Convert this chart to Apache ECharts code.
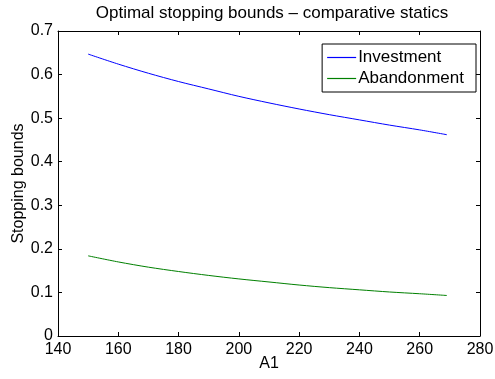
<!DOCTYPE html>
<html><head><meta charset="utf-8">
<script src="https://cdn.jsdelivr.net/npm/echarts@6/dist/echarts.min.js"></script>
<style>html,body{margin:0;padding:0;background:#fff}#c{width:495px;height:379px}</style>
</head><body><div id="c"></div>
<script>
const xValues = [150, 160, 170, 180, 190, 200, 210, 220, 230, 240, 250, 260, 269];
const investment = [0.647, 0.624, 0.603, 0.584, 0.567, 0.550, 0.535, 0.521, 0.508, 0.496, 0.484, 0.473, 0.462];
const abandonment = [0.184, 0.170, 0.158, 0.148, 0.139, 0.131, 0.124, 0.117, 0.111, 0.106, 0.101, 0.097, 0.093];
const seriesNames = ['Investment', 'Abandonment'];
const titleText = 'Optimal stopping bounds \u2013 comparative statics';

const font = 'Liberation Sans, Arial, Helvetica, sans-serif';
const fs = 16;
const chart = echarts.init(document.getElementById('c'), null, {renderer: 'canvas'});
const pair = (xs, ys) => xs.map((x, i) => [x, ys[i]]);
const axisCommon = {
  axisLine: {show: true, onZero: false, lineStyle: {color: '#000', width: 1}},
  axisTick: {show: true, inside: true, length: 4, lineStyle: {color: '#000'}},
  splitLine: {show: false}
};
chart.setOption({
  animation: false,
  backgroundColor: '#fff',
  title: {text: titleText, left: 267, textAlign: 'center', top: 0,
    textStyle: {fontFamily: font, fontSize: 17, fontWeight: 'normal', color: '#000'}},
  grid: {left: 58, right: 15, top: 31, bottom: 43, containLabel: false, outerBoundsMode: 'none'},
  legend: {
    orient: 'vertical', right: 19, top: 44,
    data: seriesNames.map(n => ({name: n, icon: 'rect'})),
    itemWidth: 29, itemHeight: 1.2, itemGap: 4,
    borderColor: '#000', borderWidth: 1, padding: [5, 12, 5, 5],
    backgroundColor: '#fff',
    textStyle: {fontFamily: font, fontSize: 17, color: '#000', padding: [0, 0, 0, -3]}
  },
  xAxis: [
    Object.assign({type: 'value', min: 140, max: 280, interval: 20, position: 'bottom',
      name: 'A1', nameLocation: 'middle', nameGap: 20, nameMoveOverlap: false,
      nameTextStyle: {fontFamily: font, fontSize: fs, color: '#000'},
      axisLabel: {fontFamily: font, fontSize: fs, color: '#000', margin: 6}}, axisCommon),
    Object.assign({type: 'value', min: 140, max: 280, interval: 20, position: 'top',
      axisLabel: {show: false}}, axisCommon)
  ],
  yAxis: [
    Object.assign({type: 'value', min: 0, max: 0.7, interval: 0.1, position: 'left',
      name: 'Stopping bounds', nameLocation: 'middle', nameGap: 31, nameMoveOverlap: false,
      nameTextStyle: {fontFamily: font, fontSize: fs, color: '#000'},
      axisLabel: {fontFamily: font, fontSize: fs, color: '#000', margin: 5,
        formatter: v => String(Math.round(v * 10) / 10)}}, axisCommon),
    Object.assign({type: 'value', min: 0, max: 0.7, interval: 0.1, position: 'right',
      axisLabel: {show: false}}, axisCommon)
  ],
  series: [
    {name: seriesNames[0], type: 'line', data: pair(xValues, investment), symbol: 'none',
      smooth: 0.3, lineStyle: {color: '#0000ff', width: 1}, itemStyle: {color: '#0000ff'}},
    {name: seriesNames[1], type: 'line', data: pair(xValues, abandonment), symbol: 'none',
      smooth: 0.3, lineStyle: {color: '#008000', width: 1}, itemStyle: {color: '#008000'}}
  ]
});
</script></body></html>
